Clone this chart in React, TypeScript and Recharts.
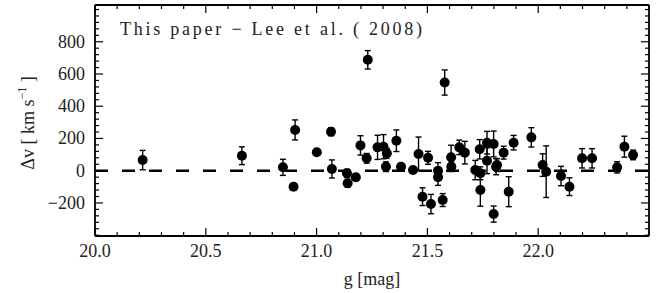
import { ErrorBar, ReferenceLine, Scatter, ScatterChart, XAxis, YAxis } from 'recharts'

const MAG = [
  20.215, 20.663, 20.848, 20.896, 20.903, 21.001, 21.065, 21.069, 21.137, 21.14,
  21.177, 21.198, 21.226, 21.231, 21.275, 21.302, 21.317, 21.313, 21.36, 21.381,
  21.435, 21.46, 21.503, 21.478, 21.516, 21.548, 21.548, 21.569, 21.578, 21.607,
  21.608, 21.644, 21.669, 21.716, 21.739, 21.736, 21.739, 21.769, 21.799, 21.769,
  21.81, 21.799, 21.814, 21.844, 21.867, 21.889, 21.969, 22.02, 22.036, 22.103,
  22.141, 22.198, 22.243, 22.356, 22.389, 22.428,
]
const DV = [
  66, 93, 21, -99, 253, 114, 242, 11, -16, -78,
  -41, 157, 77, 688, 145, 149, 108, 25, 186, 25,
  4, 104, 80, -161, -207, 0, -41, -182, 547, 83,
  25, 145, 112, 4, -16, 133, -120, 174, 166, 62,
  25, -269, 35, 112, -130, 174, 207, 35, -6, -33,
  -99, 77, 77, 21, 149, 98,
]
const ERR = [
  60, 55, 50, 20, 62, 15, 25, 56, 25, 25,
  20, 60, 30, 57, 75, 75, 30, 30, 67, 20,
  15, 105, 40, 55, 60, 50, 50, 40, 78, 75,
  30, 45, 70, 60, 40, 60, 100, 70, 80, 80,
  50, 50, 40, 40, 93, 45, 60, 70, 160, 60,
  55, 60, 60, 35, 65, 30,
]

const X_MAJOR = [20.0, 20.5, 21.0, 21.5, 22.0]
const Y_MAJOR = [-200, 0, 200, 400, 600, 800]
const X_DOMAIN = [20.0, 22.5]
const Y_DOMAIN = [-405, 1028]

const X_TICKS = Array.from({ length: 26 }, (_, i) => Number((20 + i * 0.1).toFixed(1)))
const Y_TICKS = Array.from({ length: 36 }, (_, i) => -400 + i * 40)

const data = MAG.map((g, i) => ({ g, dv: DV[i], err: ERR[i] }))

const FONT = "'Liberation Serif', 'DejaVu Serif', serif"
const txt = { fontFamily: FONT, fontSize: 18, fill: '#222' }
const isMajorX = (v: number) => X_MAJOR.some((m) => Math.abs(m - v) < 1e-6)
const isMajorY = (v: number) => Y_MAJOR.includes(v)

const BottomTick = ({ x, y, payload }: any) => {
  const major = isMajorX(payload.value)
  return (
    <g>
      <line x1={x} y1={y} x2={x} y2={y - (major ? 8 : 4)} stroke="#000" strokeWidth={1.2} />
      {major && (
        <text x={x} y={y + 21} textAnchor="middle" style={txt}>
          {payload.value.toFixed(1)}
        </text>
      )}
    </g>
  )
}

const TopTick = ({ x, y, payload }: any) => {
  const major = isMajorX(payload.value)
  return <line x1={x} y1={y} x2={x} y2={y + (major ? 8 : 4)} stroke="#000" strokeWidth={1.2} />
}

const LeftTick = ({ x, y, payload }: any) => {
  const major = isMajorY(payload.value)
  const label = payload.value < 0 ? `\u2212${-payload.value}` : `${payload.value}`
  return (
    <g>
      <line x1={x} y1={y} x2={x + (major ? 8 : 4)} y2={y} stroke="#000" strokeWidth={1.2} />
      {major && (
        <text x={x - 10} y={y + 6} textAnchor="end" style={txt}>
          {label}
        </text>
      )}
    </g>
  )
}

const RightTick = ({ x, y, payload }: any) => {
  const major = isMajorY(payload.value)
  return <line x1={x} y1={y} x2={x - (major ? 8 : 4)} y2={y} stroke="#000" strokeWidth={1.2} />
}

const Dot = (p: any) => <circle cx={p.cx} cy={p.cy} r={5} fill="#000" />

const axisLine = { stroke: '#000', strokeWidth: 1.8 }

export default function App() {
  return (
    <div style={{ position: 'absolute', left: 0, top: 0, width: 659, height: 293, background: '#fff' }}>
      <ScatterChart width={659} height={293} margin={{ top: 0, right: 0, bottom: 0, left: 0 }}>
        <XAxis
          xAxisId="b"
          type="number"
          dataKey="g"
          domain={X_DOMAIN}
          ticks={X_TICKS}
          interval={0}
          orientation="bottom"
          height={57}
          tickSize={0}
          tickMargin={0}
          tickLine={false}
          tick={BottomTick}
          axisLine={axisLine}
          allowDataOverflow
        />
        <XAxis
          xAxisId="t"
          type="number"
          dataKey="g"
          domain={X_DOMAIN}
          ticks={X_TICKS}
          interval={0}
          orientation="top"
          height={5}
          tickSize={0}
          tickMargin={0}
          tickLine={false}
          tick={TopTick}
          axisLine={axisLine}
          allowDataOverflow
        />
        <YAxis
          yAxisId="l"
          type="number"
          dataKey="dv"
          domain={Y_DOMAIN}
          ticks={Y_TICKS}
          interval={0}
          orientation="left"
          width={95}
          tickSize={0}
          tickMargin={0}
          tickLine={false}
          tick={LeftTick}
          axisLine={axisLine}
          allowDataOverflow
        />
        <YAxis
          yAxisId="r"
          type="number"
          dataKey="dv"
          domain={Y_DOMAIN}
          ticks={Y_TICKS}
          interval={0}
          orientation="right"
          width={10}
          tickSize={0}
          tickMargin={0}
          tickLine={false}
          tick={RightTick}
          axisLine={axisLine}
          allowDataOverflow
        />
        <ReferenceLine
          xAxisId="b"
          yAxisId="l"
          y={0}
          stroke="#000"
          strokeWidth={2.5}
          strokeDasharray="13 14"
        />
        <Scatter xAxisId="b" yAxisId="l" data={data} shape={Dot} isAnimationActive={false}>
          <ErrorBar dataKey="err" direction="y" width={3} stroke="#000" strokeWidth={1.4} />
        </Scatter>
      </ScatterChart>
      <svg
        width={659}
        height={293}
        style={{ position: 'absolute', left: 0, top: 0, pointerEvents: 'none' }}
      >
        <text x={120} y={35} style={txt} textLength={302} lengthAdjust="spacing">
          This paper − Lee et al. ( 2008)
        </text>
        <text x={372} y={285} textAnchor="middle" style={txt}>
          g [mag]
        </text>
        <text transform="translate(34,123) rotate(-90)" textAnchor="middle" style={txt}>
          Δv [ km s
          <tspan fontSize={12} dy={-8}>
            {'\u2212'}1
          </tspan>
          <tspan dy={8}> ]</tspan>
        </text>
      </svg>
    </div>
  )
}
